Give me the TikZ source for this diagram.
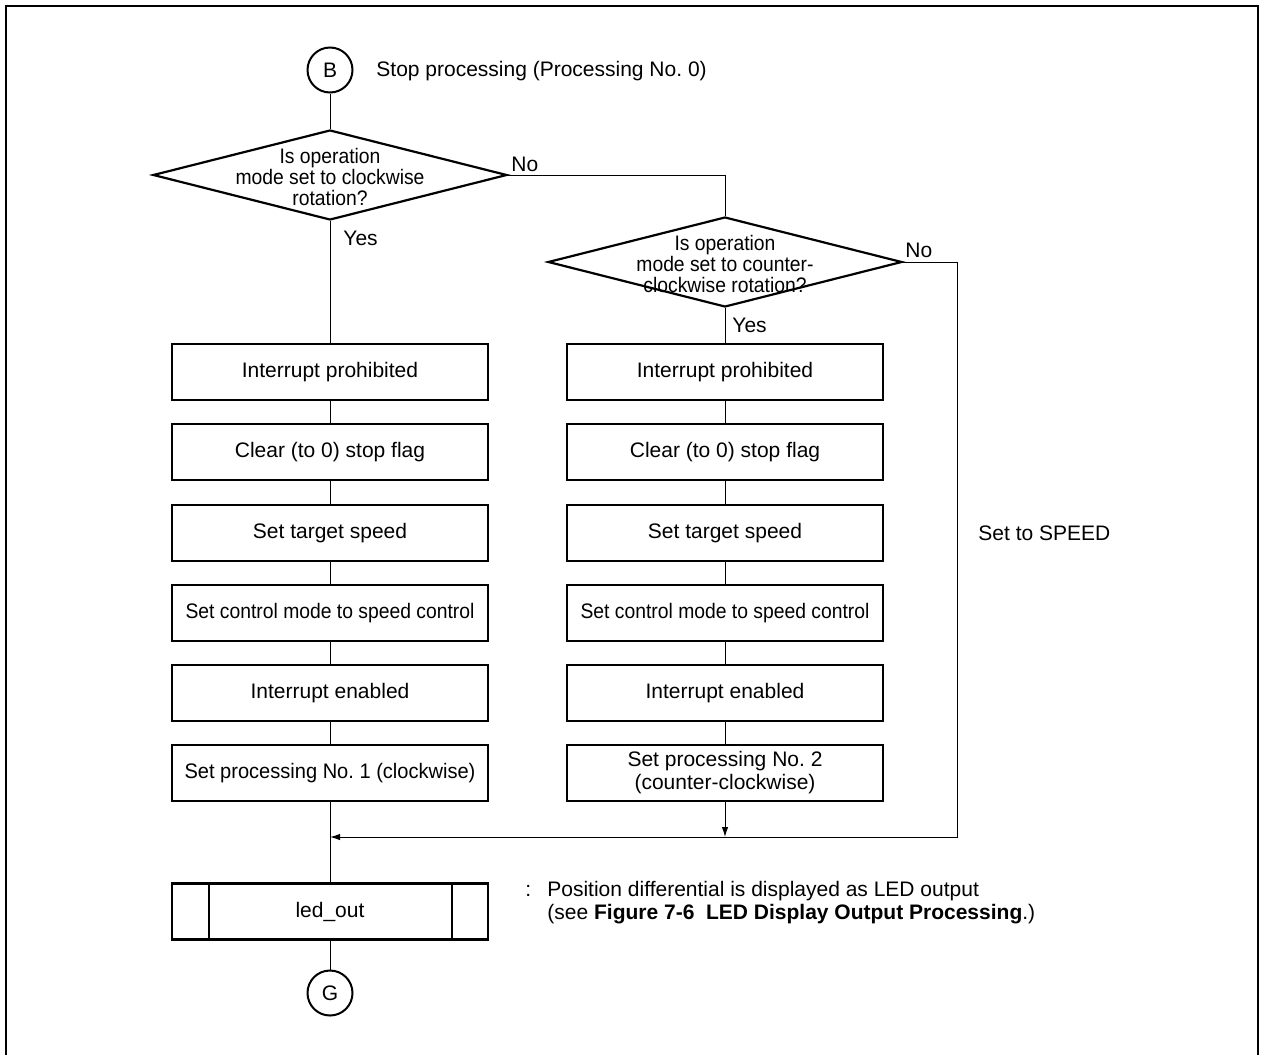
\documentclass[tikz,border=0pt]{standalone}
\usepackage{fontspec}
\setmainfont{Liberation Sans}
\newfontfamily\narrowsf[FakeStretch=0.92]{Liberation Sans}
\newfontfamily\slimsf[FakeStretch=0.955]{Liberation Sans}
\usetikzlibrary{shapes.geometric,arrows.meta}

\begin{document}
\begin{tikzpicture}[x=0.5pt,y=-0.5pt,
        font=\fontsize{10.5}{11.5}\selectfont,
        procbox/.style={draw,line width=1.1pt,minimum width=158pt,minimum height=28pt,inner sep=0pt,align=center},
        decision/.style={draw,diamond,line width=1.1pt,minimum width=177pt,minimum height=45pt,inner sep=0pt},
        asktext/.style={align=center,inner sep=0pt,font=\narrowsf\fontsize{10.5}{10.3}\selectfont},
        narrowtext/.style={font=\narrowsf\fontsize{10.5}{11.5}\selectfont},
        slimtext/.style={font=\slimsf\fontsize{10.5}{11.5}\selectfont},
        connector/.style={draw,circle,line width=1pt,minimum size=22.5pt,inner sep=0pt},
        flow/.style={line width=0.5pt},
        tip/.style={-{Latex[length=5pt,width=3.2pt]}},
        note/.style={anchor=west,inner sep=0pt}]

        % Fix the size of the page
        \useasboundingbox (0,0) rectangle (1261,1055);

        % Draw the frame (open at the bottom)
        \draw[line width=1pt] (6,1055) -- (6,6) -- (1258,6) -- (1258,1055);

        % Start connector and title
        \node[connector] (B) at (330,70) {B};
        \node[note] (title) at (376,71) {Stop processing (Processing No.\ 0)};

        % Draw the two decisions
        \node[decision] (d1) at (330,175) {};
        \node[asktext] (q1) at (330,177) {Is operation\\mode set to clockwise\\rotation?};
        \node[decision] (d2) at (725,262) {};
        \node[asktext] (q2) at (725,264) {Is operation\\mode set to counter-\\clockwise rotation?};

        % Clockwise column
        \node[procbox] (lb1) at (330,372) {Interrupt prohibited};
        \node[procbox] (lb2) at (330,452) {Clear (to 0) stop flag};
        \node[procbox] (lb3) at (330,533) {Set target speed};
        \node[procbox,narrowtext] (lb4) at (330,613) {Set control mode to speed control};
        \node[procbox] (lb5) at (330,693) {Interrupt enabled};
        \node[procbox,slimtext] (lb6) at (330,773) {Set processing No.\ 1 (clockwise)};

        % Counter-clockwise column
        \node[procbox] (rb1) at (725,372) {Interrupt prohibited};
        \node[procbox] (rb2) at (725,452) {Clear (to 0) stop flag};
        \node[procbox] (rb3) at (725,533) {Set target speed};
        \node[procbox,narrowtext] (rb4) at (725,613) {Set control mode to speed control};
        \node[procbox] (rb5) at (725,693) {Interrupt enabled};
        \node[procbox] (rb6) at (725,773) {Set processing No.\ 2\\(counter-clockwise)};

        % Subroutine call and end connector
        \node[procbox] (led) at (330,911.5) {led\_out};
        \draw[line width=1.1pt] ([xshift=19pt]led.north west) -- ([xshift=19pt]led.south west);
        \draw[line width=1.1pt] ([xshift=-18.5pt]led.north east) -- ([xshift=-18.5pt]led.south east);
        \node[connector] (G) at (330,993) {G};

        % Merge points of the flow
        \coordinate (merge) at (330,837);
        \coordinate (bend) at (957,837);

        % Draw the connectors
        \draw[flow] (B.south) -- (d1.north);
        \draw[flow] (d1.east) -| (d2.north);
        \draw[flow] (d1.south) -- (lb1.north);
        \draw[flow] (lb1.south) -- (lb2.north);
        \draw[flow] (lb2.south) -- (lb3.north);
        \draw[flow] (lb3.south) -- (lb4.north);
        \draw[flow] (lb4.south) -- (lb5.north);
        \draw[flow] (lb5.south) -- (lb6.north);
        \draw[flow] (lb6.south) -- (led.north);
        \draw[flow] (led.south) -- (G.north);
        \draw[flow] (d2.south) -- (rb1.north);
        \draw[flow] (rb1.south) -- (rb2.north);
        \draw[flow] (rb2.south) -- (rb3.north);
        \draw[flow] (rb3.south) -- (rb4.north);
        \draw[flow] (rb4.south) -- (rb5.north);
        \draw[flow] (rb5.south) -- (rb6.north);
        \draw[flow,tip] (rb6.south) -- (rb6.south |- merge);
        \draw[flow,tip] (d2.east) -| (bend) -- (merge);

        % Branch labels
        \node[note] (no1) at (511,164) {No};
        \node[note] (yes1) at (343,238) {Yes};
        \node[note] (no2) at (905,250) {No};
        \node[note] (yes2) at (732,325) {Yes};
        \node[note] (speed) at (978,533) {Set to SPEED};

        % Note on led_out
        \node[note] (note1) at (525,891) {\makebox[11pt][l]{:}Position differential is displayed as LED output};
        \node[note] (note2) at (547,914) {(see \textbf{Figure 7-6\ \ LED Display Output Processing}.)};
    \end{tikzpicture}
\end{document}
